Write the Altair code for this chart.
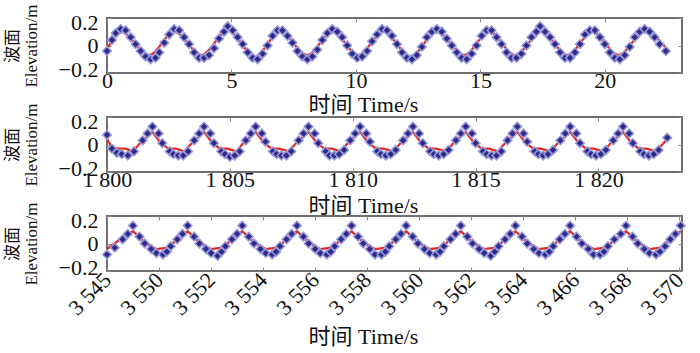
import json
import altair as alt
import pandas as pd

# ---------------- data (time s, elevation m) ----------------
p1_markers = [
    (0.0, -0.04), (0.2, 0.04), (0.35, 0.09), (0.55, 0.12), (0.75, 0.11), (0.95, 0.06),
    (1.15, 0.01), (1.35, -0.04), (1.55, -0.08), (1.75, -0.10), (1.95, -0.09), (2.1, -0.05),
    (2.3, 0.02), (2.5, 0.08), (2.7, 0.12), (2.9, 0.11), (3.1, 0.06), (3.3, 0.01),
    (3.5, -0.05), (3.7, -0.09), (3.9, -0.09), (4.1, -0.07), (4.3, -0.02), (4.5, 0.05),
    (4.7, 0.10), (4.85, 0.14), (5.05, 0.11), (5.25, 0.06), (5.45, 0.01), (5.65, -0.05),
    (5.85, -0.09), (6.05, -0.10), (6.25, -0.06), (6.45, 0.0), (6.65, 0.07), (6.85, 0.11),
    (7.05, 0.11), (7.25, 0.07), (7.45, 0.02), (7.65, -0.04), (7.85, -0.08), (8.05, -0.10),
    (8.25, -0.08), (8.45, -0.03), (8.65, 0.04), (8.85, 0.09), (9.05, 0.12), (9.25, 0.10),
    (9.45, 0.06), (9.65, 0.0), (9.85, -0.06), (10.05, -0.09), (10.25, -0.08), (10.45, -0.04),
    (10.65, 0.03), (10.85, 0.08), (11.05, 0.12), (11.25, 0.11), (11.45, 0.07), (11.65, 0.01),
    (11.85, -0.05), (12.05, -0.09), (12.25, -0.10), (12.45, -0.07), (12.65, -0.01), (12.85, 0.06),
    (13.05, 0.10), (13.25, 0.12), (13.45, 0.10), (13.65, 0.05), (13.85, 0.0), (14.05, -0.05),
    (14.25, -0.09), (14.45, -0.10), (14.65, -0.06), (14.85, 0.0), (15.05, 0.07), (15.25, 0.11),
    (15.45, 0.11), (15.65, 0.06), (15.85, 0.01), (16.05, -0.05), (16.25, -0.09), (16.45, -0.09),
    (16.65, -0.06), (16.85, 0.0), (17.05, 0.06), (17.25, 0.10), (17.4, 0.14), (17.6, 0.10),
    (17.8, 0.06), (18.0, 0.01), (18.2, -0.05), (18.4, -0.09), (18.6, -0.09), (18.8, -0.05),
    (19.0, 0.01), (19.2, 0.08), (19.4, 0.11), (19.6, 0.11), (19.8, 0.06), (20.0, 0.01),
    (20.2, -0.05), (20.4, -0.09), (20.6, -0.10), (20.8, -0.07), (21.0, -0.01), (21.2, 0.06),
    (21.4, 0.10), (21.6, 0.12), (21.8, 0.10), (22.0, 0.06), (22.2, 0.01), (22.45, -0.04),
]
p1_line = [
    (0.0, -0.03), (0.55, 0.10), (1.7, -0.07), (2.7, 0.10), (3.8, -0.07), (4.85, 0.11),
    (5.95, -0.08), (6.95, 0.10), (8.05, -0.07), (9.05, 0.10), (10.1, -0.07), (11.1, 0.10),
    (12.2, -0.08), (13.25, 0.10), (14.35, -0.07), (15.35, 0.10), (16.4, -0.07), (17.45, 0.10),
    (18.5, -0.07), (19.5, 0.10), (20.55, -0.07), (21.6, 0.10), (22.6, -0.05),
]

p2_markers = [
    (1800.0, 0.07), (1800.2, -0.03), (1800.4, -0.06), (1800.6, -0.07), (1800.85, -0.08), (1801.1, -0.05),
    (1801.45, 0.03), (1801.65, 0.08), (1801.85, 0.13), (1802.1, 0.08), (1802.25, 0.01), (1802.55, -0.05),
    (1802.7, -0.07), (1802.9, -0.08), (1803.1, -0.08), (1803.3, -0.05),
    (1803.55, 0.03), (1803.75, 0.08), (1803.95, 0.13), (1804.2, 0.08), (1804.35, 0.01), (1804.65, -0.05),
    (1804.8, -0.07), (1805.0, -0.09), (1805.2, -0.08), (1805.4, -0.05),
    (1805.65, 0.03), (1805.85, 0.08), (1806.05, 0.13), (1806.3, 0.08), (1806.45, 0.02), (1806.75, -0.05),
    (1806.9, -0.07), (1807.1, -0.08), (1807.3, -0.08), (1807.5, -0.05),
    (1807.8, 0.03), (1808.0, 0.08), (1808.2, 0.13), (1808.45, 0.08), (1808.6, 0.01), (1808.9, -0.05),
    (1809.05, -0.08), (1809.25, -0.08), (1809.45, -0.07), (1809.65, -0.04),
    (1809.9, 0.03), (1810.1, 0.08), (1810.3, 0.13), (1810.55, 0.08), (1810.7, 0.02), (1811.0, -0.05),
    (1811.15, -0.07), (1811.35, -0.08), (1811.55, -0.07), (1811.75, -0.04),
    (1812.05, 0.03), (1812.25, 0.08), (1812.45, 0.13), (1812.7, 0.08), (1812.85, 0.01), (1813.15, -0.05),
    (1813.3, -0.07), (1813.5, -0.08), (1813.7, -0.07), (1813.9, -0.04),
    (1814.2, 0.03), (1814.4, 0.08), (1814.6, 0.13), (1814.85, 0.08), (1815.0, 0.01), (1815.3, -0.05),
    (1815.45, -0.07), (1815.65, -0.08), (1815.85, -0.08), (1816.05, -0.05),
    (1816.3, 0.03), (1816.5, 0.08), (1816.7, 0.13), (1816.95, 0.08), (1817.1, 0.02), (1817.4, -0.05),
    (1817.55, -0.07), (1817.75, -0.08), (1817.95, -0.07), (1818.15, -0.04),
    (1818.45, 0.03), (1818.65, 0.08), (1818.85, 0.13), (1819.1, 0.08), (1819.25, 0.01), (1819.55, -0.05),
    (1819.7, -0.07), (1819.9, -0.08), (1820.1, -0.07), (1820.3, -0.04),
    (1820.6, 0.03), (1820.8, 0.08), (1821.0, 0.13), (1821.25, 0.08), (1821.4, 0.01), (1821.7, -0.05),
    (1821.85, -0.07), (1822.05, -0.08), (1822.25, -0.07), (1822.45, -0.04), (1822.8, 0.05),
]
p2_line = [
    (1800.0, 0.04), (1800.2, -0.02), (1800.5, -0.03), (1800.75, -0.03), (1801.05, -0.05), (1801.45, 0.03), (1801.85, 0.09),
    (1802.2, 0.01), (1802.5, -0.03), (1802.8, -0.03), (1803.15, -0.05), (1803.55, 0.03), (1803.95, 0.09),
    (1804.3, 0.01), (1804.6, -0.03), (1804.9, -0.03), (1805.25, -0.05), (1805.65, 0.03), (1806.05, 0.09),
    (1806.4, 0.01), (1806.7, -0.03), (1807.0, -0.03), (1807.4, -0.05), (1807.8, 0.03), (1808.2, 0.09),
    (1808.55, 0.01), (1808.85, -0.03), (1809.15, -0.03), (1809.5, -0.05), (1809.9, 0.03), (1810.3, 0.09),
    (1810.65, 0.01), (1810.95, -0.03), (1811.25, -0.03), (1811.65, -0.05), (1812.05, 0.03), (1812.45, 0.09),
    (1812.8, 0.01), (1813.1, -0.03), (1813.4, -0.03), (1813.8, -0.05), (1814.2, 0.03), (1814.6, 0.09),
    (1814.95, 0.01), (1815.25, -0.03), (1815.55, -0.03), (1815.9, -0.05), (1816.3, 0.03), (1816.7, 0.09),
    (1817.05, 0.01), (1817.35, -0.03), (1817.65, -0.03), (1818.05, -0.05), (1818.45, 0.03), (1818.85, 0.09),
    (1819.2, 0.01), (1819.5, -0.03), (1819.8, -0.03), (1820.2, -0.05), (1820.6, 0.03), (1821.0, 0.09),
    (1821.35, 0.01), (1821.65, -0.03), (1821.95, -0.03), (1822.35, -0.05), (1822.8, 0.04),
]

p3_markers = [
    (3548.0, -0.08), (3548.3, -0.03), (3548.6, 0.03), (3548.8, 0.07), (3549.0, 0.13),
    (3549.25, 0.05), (3549.45, 0.0), (3549.7, -0.04), (3549.9, -0.07), (3550.15, -0.08), (3550.3, -0.06),
    (3550.45, -0.02), (3550.7, 0.03), (3550.9, 0.07), (3551.1, 0.13),
    (3551.35, 0.05), (3551.55, 0.0), (3551.8, -0.04), (3552.0, -0.07), (3552.25, -0.09), (3552.4, -0.06),
    (3552.55, -0.02), (3552.8, 0.03), (3553.0, 0.07), (3553.2, 0.13),
    (3553.45, 0.05), (3553.65, 0.0), (3553.9, -0.04), (3554.1, -0.07), (3554.35, -0.08), (3554.5, -0.06),
    (3554.65, -0.02), (3554.9, 0.03), (3555.1, 0.07), (3555.3, 0.13),
    (3555.55, 0.05), (3555.75, 0.0), (3556.0, -0.04), (3556.2, -0.07), (3556.45, -0.08), (3556.6, -0.06),
    (3556.75, -0.02), (3557.0, 0.03), (3557.2, 0.07), (3557.4, 0.13),
    (3557.65, 0.05), (3557.85, 0.0), (3558.1, -0.04), (3558.3, -0.08), (3558.55, -0.08), (3558.7, -0.06),
    (3558.85, -0.02), (3559.1, 0.03), (3559.3, 0.07), (3559.5, 0.13),
    (3559.75, 0.05), (3559.95, 0.0), (3560.2, -0.04), (3560.4, -0.07), (3560.65, -0.08), (3560.8, -0.06),
    (3560.95, -0.02), (3561.2, 0.03), (3561.4, 0.07), (3561.6, 0.13),
    (3561.85, 0.05), (3562.05, 0.0), (3562.3, -0.04), (3562.5, -0.07), (3562.75, -0.09), (3562.9, -0.06),
    (3563.05, -0.02), (3563.3, 0.03), (3563.5, 0.07), (3563.7, 0.13),
    (3563.95, 0.05), (3564.15, 0.0), (3564.4, -0.04), (3564.6, -0.07), (3564.85, -0.08), (3565.0, -0.06),
    (3565.15, -0.02), (3565.4, 0.03), (3565.6, 0.07), (3565.8, 0.13),
    (3566.05, 0.05), (3566.25, 0.0), (3566.5, -0.04), (3566.7, -0.08), (3566.95, -0.08), (3567.1, -0.06),
    (3567.25, -0.02), (3567.5, 0.03), (3567.75, 0.07), (3567.95, 0.13),
    (3568.2, 0.05), (3568.4, 0.0), (3568.65, -0.04), (3568.85, -0.07), (3569.1, -0.08), (3569.25, -0.06),
    (3569.45, -0.02), (3569.65, 0.03), (3569.85, 0.07), (3570.05, 0.13),
]
p3_line = [
    (3548.0, -0.04), (3548.5, 0.03), (3549.0, 0.09),
    (3549.5, 0.0), (3549.9, -0.04), (3550.35, -0.03), (3550.7, 0.03), (3551.1, 0.09),
    (3551.6, 0.0), (3552.0, -0.04), (3552.45, -0.03), (3552.8, 0.03), (3553.2, 0.09),
    (3553.7, 0.0), (3554.1, -0.04), (3554.55, -0.03), (3554.9, 0.03), (3555.3, 0.09),
    (3555.8, 0.0), (3556.2, -0.04), (3556.65, -0.03), (3557.0, 0.03), (3557.4, 0.09),
    (3557.9, 0.0), (3558.3, -0.04), (3558.75, -0.03), (3559.1, 0.03), (3559.5, 0.09),
    (3560.0, 0.0), (3560.4, -0.04), (3560.85, -0.03), (3561.2, 0.03), (3561.6, 0.09),
    (3562.1, 0.0), (3562.5, -0.04), (3562.95, -0.03), (3563.3, 0.03), (3563.7, 0.09),
    (3564.2, 0.0), (3564.6, -0.04), (3565.05, -0.03), (3565.4, 0.03), (3565.8, 0.09),
    (3566.3, 0.0), (3566.7, -0.04), (3567.15, -0.03), (3567.55, 0.03), (3567.95, 0.09),
    (3568.45, 0.0), (3568.85, -0.04), (3569.3, -0.03), (3569.65, 0.03), (3570.05, 0.09),
]

p1_xticks = [0, 5, 10, 15, 20]
p1_xlabels = ["0", "5", "10", "15", "20"]
p2_xticks = [1800, 1805, 1810, 1815, 1820]
p2_xlabels = ["1 800", "1 805", "1 810", "1 815", "1 820"]
p3_xticks = [3548, 3550, 3552, 3554, 3556, 3558, 3560, 3562, 3564, 3566, 3568, 3570]
p3_xlabels = ["3 545", "3 550", "3 552", "3 554", "3 556", "3 558", "3 560",
              "3 562", "3 564", "3 466", "3 568", "3 570"]
y_ticks = [-0.2, 0, 0.2]

x_title = "时间 Time/s"
y_title = ["波面", "Elevation/m"]

LABEL_FONT = "Liberation Serif"
TITLE_FONT = "Liberation Serif, Noto Sans CJK SC"
RED = "#e8261e"
BLUE = "#2d2a8a"
W, H = 575, 55

# pull the end labels of the y axis slightly inward, as in the reference
y_label_offset = {
    "condition": [
        {"test": "datum.value < 0", "value": -4},
        {"test": "datum.value > 0", "value": 4},
    ],
    "value": 0,
}


def panel(markers, line, domain, ticks, labels, interp, angle, title_y, x_pad):
    dm = pd.DataFrame(markers, columns=["t", "v"])
    dl = pd.DataFrame(line, columns=["t", "v"])
    label_expr = f"{json.dumps(labels, ensure_ascii=False)}[indexof({json.dumps(ticks)}, datum.value)]"
    xaxis = dict(
        values=ticks, labelExpr=label_expr, title=x_title, grid=True,
        gridDash=[4, H - 8], gridColor="#8a8a8a", gridWidth=1,
        ticks=False, tickSize=0, domain=False,
        labelFont=LABEL_FONT, labelColor="#111",
        titleFont=TITLE_FONT, titleFontSize=22, titleFontWeight="normal", titleColor="#111",
        titleX=256, titleY=title_y, titleAlign="center", titleBaseline="middle",
        labelFlush=False, labelOverlap=False,
    )
    if angle:
        xaxis.update(labelAngle=angle, labelAlign="right", labelBaseline="middle",
                     labelPadding=x_pad, labelFontSize=22)
    else:
        xaxis.update(labelAngle=0, labelAlign="center", labelBaseline="top",
                     labelPadding=x_pad, labelFontSize=22)
    x = alt.X("t:Q", scale=alt.Scale(domain=domain, nice=False, zero=False), axis=alt.Axis(**xaxis))
    y = alt.Y("v:Q", scale=alt.Scale(domain=[-0.2, 0.2], nice=False, zero=False),
              axis=alt.Axis(values=y_ticks, format=".1~f", title=y_title, grid=True,
                            gridDash=[4, W - 8], gridColor="#8a8a8a", gridWidth=1,
                            ticks=False, tickSize=0, domain=False, labelPadding=9,
                            labelOffset=y_label_offset,
                            labelFont=LABEL_FONT, labelFontSize=22, labelColor="#111",
                            labelFlush=False, labelOverlap=False,
                            titleFont=TITLE_FONT, titleFontSize=17, titleFontWeight="normal",
                            titleColor="#111", titleLineHeight=19,
                            titleAngle=270, titleX=-95, titleY=H / 2,
                            titleAlign="center", titleBaseline="middle"))
    ln = alt.Chart(dl).mark_line(color=RED, strokeWidth=2.2, interpolate=interp).encode(x=x, y=y)
    pts = alt.Chart(dm).mark_point(shape="diamond", filled=True, size=75, fill=BLUE,
                                   stroke="#9a9ad8", strokeWidth=1.5, opacity=1).encode(x=x, y=y)
    return alt.layer(ln, pts).properties(width=W, height=H)


c1 = panel(p1_markers, p1_line, [0, 23.1], p1_xticks, p1_xlabels, "monotone", 0, 31, -3)
c2 = panel(p2_markers, p2_line, [1800, 1823.4], p2_xticks, p2_xlabels, "linear", 0, 33, -3)
c3 = panel(p3_markers, p3_line, [3548, 3570.1], p3_xticks, p3_xlabels, "linear", 315, 65, 5)

chart = alt.vconcat(c1, c2, c3, spacing=44, bounds="flush").properties(
    padding={"left": 2, "top": 2, "right": 10, "bottom": 5},
    background="white",
).configure_view(stroke="#6f6f6f", strokeWidth=2)

chart.save("out.html", embed_options={"renderer": "svg", "actions": False})
